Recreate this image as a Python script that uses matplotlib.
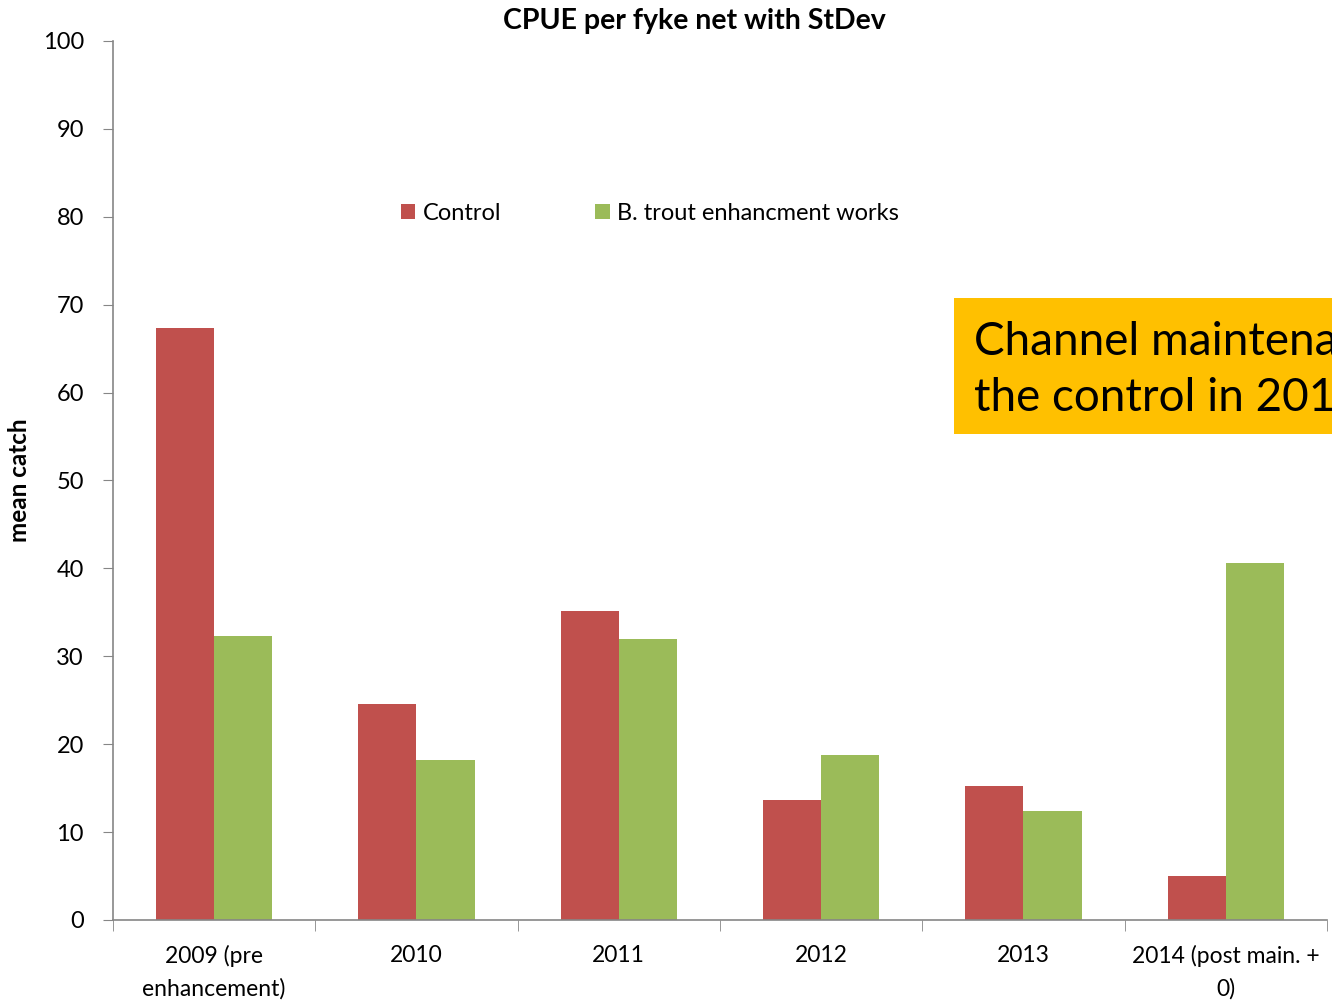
import numpy as np
import matplotlib.pyplot as plt
from matplotlib.patches import Rectangle

plt.rcParams['font.family'] = ['Lato', 'DejaVu Sans']

# data
years = ['2009 (pre\nenhancement)', '2010', '2011', '2012', '2013', '2014 (post main. +\n0)']
control = [67.3, 24.6, 35.2, 13.6, 15.2, 5.0]
trout = [32.3, 18.2, 32.0, 18.8, 12.4, 40.6]

fig = plt.figure(figsize=(13.32, 10), dpi=100)
ax = fig.add_axes([0.0848, 0.08, 0.9114, 0.879])

x = np.arange(len(years))
w = 0.287
ax.bar(x - w/2, control, width=w, color='#C0504D', label='Control')
ax.bar(x + w/2, trout, width=w, color='#9BBB59', label='B. trout enhancment works')

ax.set_xlim(-0.5, len(years) - 0.5)
ax.set_ylim(0, 100)
ax.set_yticks(np.arange(0, 101, 10))
ax.set_xticks(x)
ax.set_xticklabels(years, fontsize=16.5, linespacing=1.65)
ax.set_xticks(np.arange(-0.5, len(years), 1), minor=True)
ax.tick_params(axis='x', which='major', length=0, pad=18)
ax.tick_params(axis='x', which='minor', length=8, color='#868686', direction='out')
ax.tick_params(axis='y', labelsize=17, length=7, color='#868686', pad=14)

for s in ['top', 'right']:
    ax.spines[s].set_visible(False)
for s in ['left', 'bottom']:
    ax.spines[s].set_color('#868686')
    ax.spines[s].set_linewidth(1.2)

ax.set_ylabel('mean catch', fontsize=17.5, fontweight='bold', labelpad=8)
fig.text(694/1332, 1 - 21/1000, 'CPUE per fyke net with StDev', fontsize=20.5,
         fontweight='bold', ha='center', va='center')

ax.legend(loc='upper left', bbox_to_anchor=(0.22, 0.84), ncol=2, frameon=False,
          fontsize=17, columnspacing=4.0, handlelength=0.6, handleheight=0.6,
          handletextpad=0.3)

# orange callout, cut off at the right edge like the slide
fig.patches.append(Rectangle((954/1332, 1 - 434/1000), 0.3, 0.136,
                             transform=fig.transFigure, facecolor='#FFC000',
                             edgecolor='none', zorder=5))
fig.text(974/1332, 1 - 321/1000, 'Channel maintenance on\nthe control in 2014',
         fontsize=33, va='top', ha='left', linespacing=1.4, zorder=6)

fig.savefig('out.png', dpi=100)
